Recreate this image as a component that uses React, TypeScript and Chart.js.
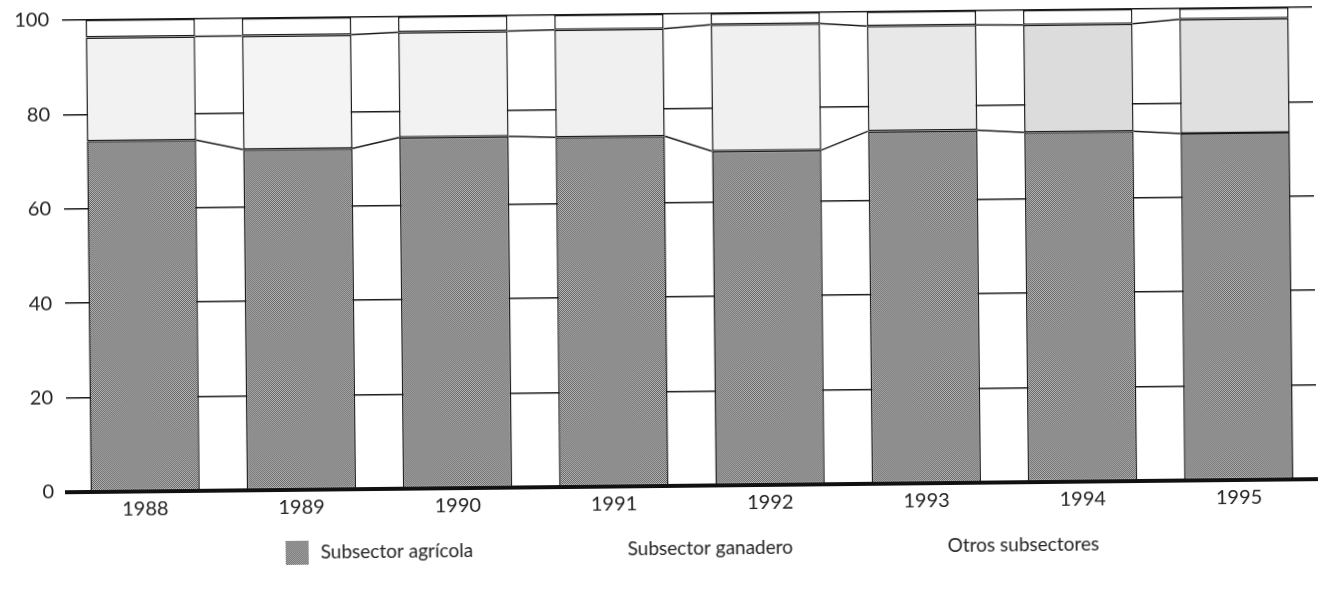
import React, { useEffect, useRef } from "react";
import { Chart, registerables } from "chart.js";

Chart.register(...registerables);

// ---- Data ----
const YEARS = ["1988", "1989", "1990", "1991", "1992", "1993", "1994", "1995"];
const AGRICOLA = [74.3, 72.2, 74.4, 74.1, 70.8, 74.7, 74.1, 73.5];
const GANADERO = [22.0, 24.1, 22.3, 22.8, 26.8, 22.3, 22.8, 24.2];
const OTROS = [3.7, 3.7, 3.3, 3.1, 2.4, 3.0, 3.1, 2.3];
const Y_TICKS = [0, 20, 40, 60, 80, 100];
const SERIES_NAMES = ["Subsector agrícola", "Subsector ganadero", "Otros subsectores"];

// ---- Styles ----
const FONT = "Lato, 'Open Sans', sans-serif";
const INK = "#1a1a1a";
const GANADERO_SHADES = ["#f2f2f2", "#f4f4f4", "#f2f2f2", "#f0f0f0", "#f0f0f0", "#e8e8e8", "#dcdcdc", "#e0e0e0"];
const LEGEND_TEXT_X = [318, 625, 945];
const LEGEND_Y = 549;

function makeDither(dark: string, light: string): CanvasPattern | string {
  const c = document.createElement("canvas");
  c.width = 2;
  c.height = 2;
  const ctx = c.getContext("2d");
  if (!ctx) return "#8a8a8a";
  ctx.fillStyle = light;
  ctx.fillRect(0, 0, 2, 2);
  ctx.fillStyle = dark;
  ctx.fillRect(0, 0, 1, 1);
  ctx.fillRect(1, 1, 1, 1);
  return ctx.createPattern(c, "repeat") || "#8a8a8a";
}

export default function App() {
  const ref = useRef<HTMLCanvasElement | null>(null);

  useEffect(() => {
    if (!ref.current) return;
    const agriFill = makeDither("#606060", "#bcbcbc");

    const connectors = {
      id: "seriesLines",
      afterDatasetsDraw(chart: any) {
        const ctx = chart.ctx;
        ctx.save();
        ctx.strokeStyle = INK;
        ctx.lineWidth = 1.5;
        [0, 1].forEach((di) => {
          const meta = chart.getDatasetMeta(di);
          for (let j = 0; j < meta.data.length - 1; j++) {
            const a = meta.data[j].getProps(["x", "y", "width"], true);
            const b = meta.data[j + 1].getProps(["x", "y", "width"], true);
            ctx.beginPath();
            ctx.moveTo(a.x + a.width / 2, a.y);
            ctx.lineTo(b.x - b.width / 2, b.y);
            ctx.stroke();
          }
        });
        ctx.restore();
      },
    };

    const legend = {
      id: "customLegend",
      afterDraw(chart: any) {
        const ctx = chart.ctx;
        ctx.save();
        ctx.font = `19px ${FONT}`;
        ctx.textBaseline = "middle";
        ctx.textAlign = "left";
        chart.data.datasets.forEach((ds: any, i: number) => {
          const tx = LEGEND_TEXT_X[i];
          if (i === 0) {
            ctx.fillStyle = ds.legendFill;
            ctx.fillRect(tx - 35, LEGEND_Y - 12, 23, 24);
          }
          ctx.fillStyle = "#222";
          ctx.fillText(ds.label, tx, LEGEND_Y);
        });
        ctx.restore();
      },
    };

    const chart = new Chart(ref.current, {
      type: "bar",
      data: {
        labels: YEARS,
        datasets: [
          {
            label: SERIES_NAMES[0],
            data: AGRICOLA,
            backgroundColor: agriFill as any,
            legendFill: agriFill,
            borderColor: INK,
            borderWidth: 1.5,
            borderSkipped: false,
            barPercentage: 0.7,
            categoryPercentage: 1,
          } as any,
          {
            label: SERIES_NAMES[1],
            data: GANADERO,
            backgroundColor: GANADERO_SHADES,
            borderColor: INK,
            borderWidth: 1.5,
            borderSkipped: false,
            barPercentage: 0.7,
            categoryPercentage: 1,
          },
          {
            label: SERIES_NAMES[2],
            data: OTROS,
            backgroundColor: "#ffffff",
            borderColor: INK,
            borderWidth: 1.5,
            borderSkipped: false,
            barPercentage: 0.7,
            categoryPercentage: 1,
          },
        ],
      },
      options: {
        animation: false,
        responsive: false,
        maintainAspectRatio: false,
        layout: { padding: { top: 14, right: 7, left: 0, bottom: 0 } },
        plugins: {
          legend: { display: false },
          tooltip: { enabled: false },
        },
        scales: {
          x: {
            stacked: true,
            z: 1,
            grid: { display: false, drawTicks: false },
            border: { display: true, width: 4, color: "#111" },
            ticks: { font: { family: FONT, size: 20 }, color: "#222", padding: 6 },
            afterFit: (s: any) => {
              s.height = 106;
            },
          },
          y: {
            stacked: true,
            min: 0,
            max: 100,
            grid: { color: INK, lineWidth: 1.5, drawTicks: false },
            border: { display: false },
            ticks: { font: { family: FONT, size: 20, lineHeight: 0.1 }, color: "#222", padding: 13 },
            afterBuildTicks: (s: any) => {
              s.ticks = Y_TICKS.map((v) => ({ value: v }));
            },
            afterFit: (s: any) => {
              s.width = 65;
            },
          },
        },
      } as any,
      plugins: [connectors, legend],
    });

    return () => chart.destroy();
  }, []);

  return (
    <div
      style={{
        position: "fixed",
        left: 0,
        top: 0,
        width: 1322,
        height: 592,
        background: "#fff",
        transform: "rotate(-0.6deg)",
      }}
    >
      <canvas ref={ref} width={1322} height={592} style={{ display: "block" }} />
    </div>
  );
}
